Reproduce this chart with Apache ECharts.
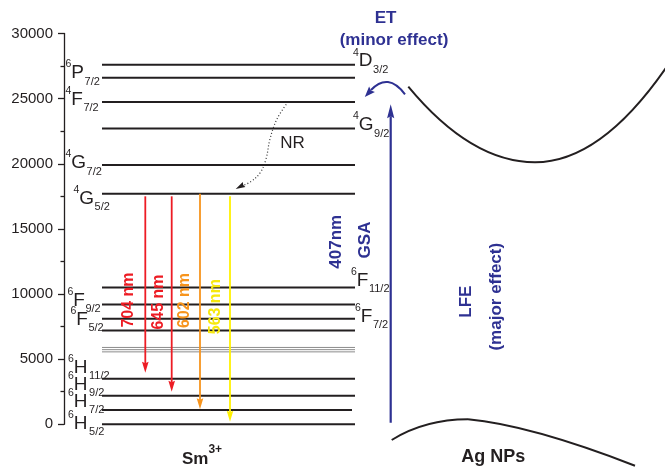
<!DOCTYPE html>
<html>
<head>
<meta charset="utf-8">
<script src="https://cdn.jsdelivr.net/npm/echarts@6/dist/echarts.min.js"></script>
<style>
  html, body { margin: 0; padding: 0; background: #fff; }
  #chart { width: 665px; height: 467px; }
</style>
</head>
<body>
<div id="chart"></div>
<script>
// ---- Sm3+ energy levels (cm^-1) ----
const levelTerms = ['6H5/2', '6H7/2', '6H9/2', '6H11/2', '6H13/2', '6F1/2', '6F3/2', '6F5/2', '6F7/2',
                    '6F9/2', '6F11/2', '4G5/2', '4G7/2', '4G9/2', '4F7/2', '6P7/2', '4D3/2'];
const levelEnergies = [0, 1100, 2200, 3500, 5560, 5730, 5900, 7200, 8100,
                       9200, 10500, 17700, 19900, 22700, 24750, 26600, 27600];

// ---- emission from 4G5/2 ----
const emissionWavelengths = [704, 645, 602, 563];
const emissionFrom = [17500, 17500, 17700, 17500];
const emissionTo = [3950, 2500, 1150, 200];

// ---- excitation (ground state absorption) ----
const excitationWavelength = 407;          // nm
const excitationFrom = 0;

// ---- energy axis ----
const axisMin = 0, axisMax = 30000, axisStep = 5000;

// ---------------- layout & style ----------------
const FONT = '"Liberation Sans", Arial, Helvetica, sans-serif';
const INK = '#231F20';
const BLUE = '#2E3192';
const LEVEL_X0 = 102, LEVEL_X1 = 355;
const greyLevels = ['6H13/2', '6F1/2', '6F3/2'];
const shortLevels = { '6H7/2': 352 };

// term label placement: left x of the label, offset of main letter centre from the level line
const termLabels = {
  '6P7/2':  { x: 65.5, dy: -4.8 },
  '4F7/2':  { x: 65.5, dy: -2.5 },
  '4G7/2':  { x: 65.5, dy: -2 },
  '4G5/2':  { x: 73.5, dy: 5 },
  '6F9/2':  { x: 67.5, dy: -3.7 },
  '6F5/2':  { x: 70.5, dy: -11 },
  '6H11/2': { x: 68,   dy: -11, gap: 1.5 },
  '6H9/2':  { x: 68,   dy: -10.7, gap: 1.5 },
  '6H7/2':  { x: 68,   dy: -8.3, gap: 1.5 },
  '6H5/2':  { x: 68,   dy: -1, gap: 1.5 },
  '4D3/2':  { x: 353,  dy: -3.5 },
  '4G9/2':  { x: 353,  dy: -3.5 },
  '6F11/2': { x: 351,  dy: -7 },
  '6F7/2':  { x: 355,  dy: -2 }
};

const emissionStyle = [
  { x: 145.3, color: '#ED1C24', text: '#ED1C24', lx: 128.3, ly: 300 },
  { x: 171.7, color: '#ED1C24', text: '#ED1C24', lx: 158.3, ly: 302 },
  { x: 200,   color: '#F7941D', text: '#F7941D', lx: 185,   ly: 300.5 },
  { x: 230,   color: '#FFF100', text: '#F6E80E', lx: 216,   ly: 306.7 }
];
const GSA_X = 390.7;

function arrowHead(tipX, tipY, dx, dy, len, halfW, notch) {
  const n = Math.hypot(dx, dy);
  const ux = dx / n, uy = dy / n;          // unit direction toward the tip
  const px = -uy, py = ux;                 // perpendicular
  const bx = tipX - ux * len, by = tipY - uy * len;
  return [
    [tipX, tipY],
    [bx + px * halfW, by + py * halfW],
    [tipX - ux * (len - notch), tipY - uy * (len - notch)],
    [bx - px * halfW, by - py * halfW]
  ];
}

function termRich(term) {
  return '{p|' + term[0] + '}{m|' + term[1] + '}{s|' + term.slice(2) + '}';
}

const chart = echarts.init(document.getElementById('chart'), null, { renderer: 'canvas' });

const termIdx = levelTerms.map((t, i) => i).filter(i => termLabels[levelTerms[i]]);

const option = {
  animation: false,
  backgroundColor: '#fff',
  grid: { left: 64, right: 0, top: 33.5, bottom: 42.7, containLabel: false },
  xAxis: { type: 'value', min: 64, max: 665, show: false },
  yAxis: {
    type: 'value', min: axisMin, max: axisMax, interval: axisStep,
    axisLine: { show: true, onZero: false, lineStyle: { color: INK, width: 1.3 } },
    axisTick: { show: true, inside: false, length: 6, lineStyle: { color: INK, width: 1.3 } },
    minorTick: { show: true, splitNumber: 2, length: 3.5, lineStyle: { color: INK, width: 1.3 } },
    splitLine: { show: false },
    axisLabel: { color: INK, fontSize: 15, fontFamily: FONT, margin: 11, formatter: v => String(v) }
  },
  series: [
    {
      // horizontal level lines
      type: 'custom', silent: true,
      data: levelEnergies.map((e, i) => [i, e]),
      renderItem(params, api) {
        const term = levelTerms[params.dataIndex];
        const e = api.value(1);
        const grey = greyLevels.includes(term);
        const a = api.coord([LEVEL_X0, e]);
        const b = api.coord([shortLevels[term] || LEVEL_X1, e]);
        return {
          type: 'line',
          shape: { x1: a[0], y1: a[1], x2: b[0], y2: b[1] },
          style: { stroke: grey ? '#8C8C8C' : INK, lineWidth: grey ? 1 : 2 }
        };
      }
    },
    {
      // term symbols
      type: 'custom', silent: true,
      data: termIdx.map(i => [i, levelEnergies[i]]),
      renderItem(params, api) {
        const i = api.value(0);
        const term = levelTerms[i];
        const lay = termLabels[term];
        const p = api.coord([lay.x, api.value(1)]);
        return {
          type: 'text',
          x: p[0], y: p[1] + lay.dy,
          style: {
            text: termRich(term),
            align: 'left', verticalAlign: 'middle',
            rich: {
              p: { fontSize: 10.5, fontFamily: FONT, fill: INK, lineHeight: 11, verticalAlign: 'top' },
              m: { fontSize: 19, fontFamily: FONT, fill: INK, lineHeight: 28, verticalAlign: 'middle' },
              s: { fontSize: 11, fontFamily: FONT, fill: INK, lineHeight: 8, verticalAlign: 'bottom',
                   padding: [0, 0, 0, lay.gap || 0.5] }
            }
          }
        };
      }
    },
    {
      // emission arrows 4G5/2 -> 6H(J)
      type: 'custom', silent: true,
      data: emissionWavelengths.map((w, i) => [i, emissionFrom[i], emissionTo[i], w]),
      renderItem(params, api) {
        const i = params.dataIndex;
        const st = emissionStyle[i];
        const top = api.coord([st.x, api.value(1)]);
        const tip = api.coord([st.x, api.value(2)]);
        const headLen = 11;
        return {
          type: 'group',
          children: [
            { type: 'line', shape: { x1: top[0], y1: top[1], x2: tip[0], y2: tip[1] - headLen + 2 },
              style: { stroke: st.color, lineWidth: 1.8 } },
            { type: 'polygon', shape: { points: arrowHead(tip[0], tip[1], 0, 1, headLen, 3.3, 1.5) },
              style: { fill: st.color } },
            { type: 'text', x: st.lx, y: st.ly, rotation: Math.PI / 2,
              style: { text: api.value(3) + ' nm', align: 'center', verticalAlign: 'middle',
                       fill: st.text, font: 'bold 16px ' + FONT } }
          ]
        };
      }
    },
    {
      // ground state absorption at 407 nm
      type: 'custom', silent: true,
      data: [[excitationFrom, 1e7 / excitationWavelength]],
      renderItem(params, api) {
        const a = api.coord([GSA_X, api.value(0)]);
        const b = api.coord([GSA_X, api.value(1)]);
        const headLen = 14;
        return {
          type: 'group',
          children: [
            { type: 'line', shape: { x1: a[0], y1: a[1] - 1.5, x2: b[0], y2: b[1] + headLen - 2 },
              style: { stroke: BLUE, lineWidth: 2.2 } },
            { type: 'polygon', shape: { points: arrowHead(b[0], b[1], 0, -1, headLen, 3.6, 2) },
              style: { fill: BLUE } }
          ]
        };
      }
    }
  ],
  graphic: [
    // non-radiative relaxation 4F7/2 -> 4G5/2
    { type: 'polyline', silent: true,
      shape: { points: [[288, 102], [277, 119], [270, 139], [266, 159], [260, 173], [251, 181.5], [243, 185.5]], smooth: 0.4 },
      style: { stroke: '#333', lineWidth: 1.2, lineDash: [1, 2.2], fill: null } },
    { type: 'polygon', silent: true,
      shape: { points: arrowHead(235.7, 189, -8.5, 4.5, 9.5, 2.8, 1) }, style: { fill: INK } },
    { type: 'text', silent: true, x: 292.5, y: 143,
      style: { text: 'NR', align: 'center', verticalAlign: 'middle', fill: INK, font: '17px ' + FONT } },

    // energy transfer arc
    { type: 'bezierCurve', silent: true,
      shape: { x1: 405, y1: 94.3, cpx1: 388, cpy1: 72, x2: 371, y2: 90 },
      style: { stroke: BLUE, lineWidth: 2, fill: null } },
    { type: 'polygon', silent: true,
      shape: { points: arrowHead(364.8, 97, -17, 18, 10.5, 4, 1.5) }, style: { fill: BLUE } },
    { type: 'text', silent: true, x: 385.5, y: 18,
      style: { text: 'ET', align: 'center', verticalAlign: 'middle', fill: BLUE, font: 'bold 17px ' + FONT } },
    { type: 'text', silent: true, x: 394, y: 40,
      style: { text: '(minor effect)', align: 'center', verticalAlign: 'middle', fill: BLUE, font: 'bold 17px ' + FONT } },

    // GSA labels
    { type: 'text', silent: true, x: 336, y: 241.7, rotation: Math.PI / 2,
      style: { text: '407nm', align: 'center', verticalAlign: 'middle', fill: BLUE, font: 'bold 17px ' + FONT } },
    { type: 'text', silent: true, x: 365, y: 240, rotation: Math.PI / 2,
      style: { text: 'GSA', align: 'center', verticalAlign: 'middle', fill: BLUE, font: 'bold 17px ' + FONT } },

    // local field enhancement labels
    { type: 'text', silent: true, x: 466, y: 301.7, rotation: Math.PI / 2,
      style: { text: 'LFE', align: 'center', verticalAlign: 'middle', fill: BLUE, font: 'bold 17px ' + FONT } },
    { type: 'text', silent: true, x: 496, y: 296.7, rotation: Math.PI / 2,
      style: { text: '(major effect)', align: 'center', verticalAlign: 'middle', fill: BLUE, font: 'bold 17px ' + FONT } },

    // Ag nanoparticle band curves
    { type: 'bezierCurve', silent: true,
      shape: { x1: 408.3, y1: 86.7, cpx1: 471, cpy1: 162.3, x2: 535, y2: 162.3 },
      style: { stroke: INK, lineWidth: 2, fill: null } },
    { type: 'bezierCurve', silent: true,
      shape: { x1: 535, y1: 162.3, cpx1: 603.5, cpy1: 162.3, x2: 672, y2: 59 },
      style: { stroke: INK, lineWidth: 2, fill: null } },
    { type: 'bezierCurve', silent: true,
      shape: { x1: 391.7, y1: 440, cpx1: 425, cpy1: 419.3, x2: 468, y2: 419.3 },
      style: { stroke: INK, lineWidth: 2, fill: null } },
    { type: 'bezierCurve', silent: true,
      shape: { x1: 468, y1: 419.3, cpx1: 530, cpy1: 425, x2: 635, y2: 465.7 },
      style: { stroke: INK, lineWidth: 2, fill: null } },

    // panel captions
    { type: 'text', silent: true, x: 493.3, y: 457,
      style: { text: 'Ag NPs', align: 'center', verticalAlign: 'middle', fill: INK, font: 'bold 18px ' + FONT } },
    { type: 'text', silent: true, x: 202, y: 456,
      style: { text: '{a|Sm}{b|3+}', align: 'center', verticalAlign: 'middle',
               rich: {
                 a: { fontSize: 17, fontWeight: 'bold', fontFamily: FONT, fill: INK, lineHeight: 24, verticalAlign: 'bottom' },
                 b: { fontSize: 12, fontWeight: 'bold', fontFamily: FONT, fill: INK, lineHeight: 14, verticalAlign: 'top' }
               } } }
  ]
};

chart.setOption(option);
</script>
</body>
</html>
